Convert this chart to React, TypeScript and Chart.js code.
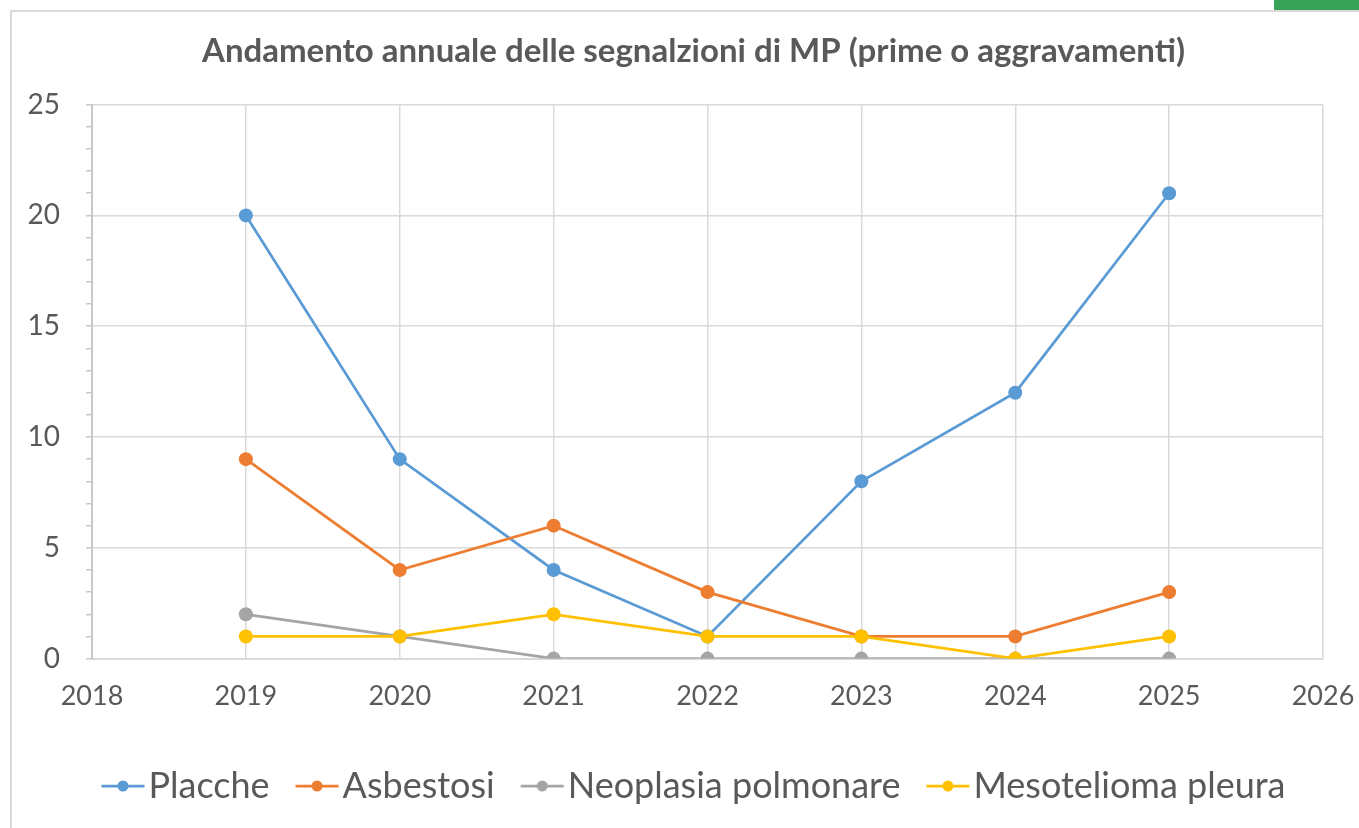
import React, { useEffect, useRef } from "react";
import { Chart, registerables } from "chart.js";

Chart.register(...registerables);

const years = [2019, 2020, 2021, 2022, 2023, 2024, 2025];
const seriesNames = ["Placche", "Asbestosi", "Neoplasia polmonare", "Mesotelioma pleura"];
const placche = [20, 9, 4, 1, 8, 12, 21];
const asbestosi = [9, 4, 6, 3, 1, 1, 3];
const neoplasia = [2, 1, 0, 0, 0, 0, 0];
const mesotelioma = [1, 1, 2, 1, 1, 0, 1];
const seriesColors = ["#5b9bd5", "#ed7d31", "#a5a5a5", "#ffc000"];
const titleText = "Andamento annuale delle segnalzioni di MP (prime o aggravamenti)";
const xMin = 2018;
const xMax = 2026;
const yMin = 0;
const yMax = 25;

const FONT = "Lato, 'Open Sans', sans-serif";
const TEXT = "#595959";
const GRID = "#d9d9d9";

const LEG_FONT = 36;
const LEG_BOX = 29;
const ICON_W = 64;
const PAD_LEFT = 28;

function legendIcon(color: string): HTMLCanvasElement {
  const c = document.createElement("canvas");
  c.width = ICON_W;
  c.height = 16;
  const g = c.getContext("2d")!;
  const start = ICON_W / 2 - LEG_BOX / 2;
  g.strokeStyle = color;
  g.lineWidth = 2.75;
  g.beginPath();
  g.moveTo(start, 8);
  g.lineTo(start + 43, 8);
  g.stroke();
  g.fillStyle = color;
  g.beginPath();
  g.arc(start + 21.5, 8, 5.5, 0, Math.PI * 2);
  g.fill();
  return c;
}

const frame = {
  id: "frame",
  beforeDraw(chart: any) {
    const ctx = chart.ctx;
    ctx.save();
    ctx.fillStyle = "#ffffff";
    ctx.fillRect(0, 0, chart.width, chart.height);
    ctx.strokeStyle = GRID;
    ctx.lineWidth = 2;
    ctx.beginPath();
    ctx.moveTo(11, 828);
    ctx.lineTo(11, 11);
    ctx.lineTo(1359, 11);
    ctx.stroke();
    ctx.fillStyle = "#3aa35a";
    ctx.fillRect(1274, 0, 85, 10);
    ctx.restore();
  },
};

export default function App() {
  const ref = useRef<HTMLCanvasElement | null>(null);
  useEffect(() => {
    const values = [placche, asbestosi, neoplasia, mesotelioma];
    const icons = seriesColors.map(legendIcon);
    const chart = new Chart(ref.current!, {
      type: "line",
      data: {
        datasets: seriesNames.map((name, i) => ({
          label: name,
          data: years.map((y, j) => ({ x: y, y: values[i][j] })),
          borderColor: seriesColors[i],
          backgroundColor: seriesColors[i],
          borderWidth: 2.75,
          pointRadius: 7,
          pointHoverRadius: 7,
          pointBorderWidth: 0,
          tension: 0,
          order: seriesNames.length - i,
        })),
      },
      options: {
        responsive: false,
        animation: false,
        layout: { padding: { left: PAD_LEFT, right: 0, top: 0, bottom: 14 } },
        plugins: {
          title: {
            display: true,
            text: titleText,
            color: TEXT,
            font: { family: FONT, size: 33, weight: "bold" },
            padding: { top: 32, bottom: 33 },
          },
          legend: {
            position: "bottom",
            labels: {
              color: TEXT,
              font: { family: FONT, size: LEG_FONT },
              usePointStyle: true,
              pointStyleWidth: LEG_BOX,
              padding: 26,
              sort: (a: any, b: any) => a.datasetIndex - b.datasetIndex,
              generateLabels: (ch: any) => {
                const items = Chart.defaults.plugins.legend.labels.generateLabels(ch);
                items.forEach((it: any) => {
                  it.pointStyle = icons[it.datasetIndex];
                });
                return items;
              },
            },
          },
          tooltip: { enabled: false },
        },
        scales: {
          x: {
            type: "linear",
            min: xMin,
            max: xMax,
            afterFit: (s: any) => {
              s.height += 9;
              s.paddingRight = 36;
            },
            ticks: {
              stepSize: 1,
              color: TEXT,
              font: { family: FONT, size: 27 },
              padding: 21,
              callback: (v: any) => String(v),
            },
            grid: { color: GRID, lineWidth: 1.5, drawTicks: false },
            border: { color: GRID, width: 2 },
          },
          y: {
            min: yMin,
            max: yMax,
            afterFit: (s: any) => {
              s.width = 92 - PAD_LEFT;
            },
            ticks: {
              stepSize: 1,
              autoSkip: false,
              color: TEXT,
              font: { family: FONT, size: 28 },
              padding: 26,
              callback: (v: any) => (Number(v) % 5 === 0 ? String(v) : ""),
            },
            grid: {
              color: (c: any) => (c.tick && c.tick.value % 5 === 0 ? GRID : "rgba(0,0,0,0)"),
              tickColor: "#c8c8c8",
              tickLength: 6,
              lineWidth: 1.5,
            },
            border: { color: "#c8c8c8", width: 2 },
          },
        },
      },
      plugins: [frame],
    });
    return () => chart.destroy();
  }, []);
  return (
    <div style={{ position: "absolute", left: 0, top: 0, width: 1359, height: 828 }}>
      <canvas ref={ref} width={1359} height={828} style={{ width: 1359, height: 828 }} />
    </div>
  );
}
